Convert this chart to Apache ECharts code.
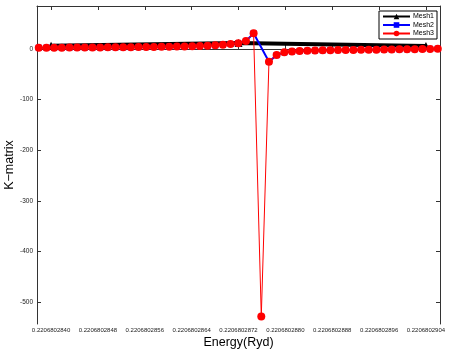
<!DOCTYPE html>
<html>
<head>
<meta charset="utf-8">
<script src="https://cdn.jsdelivr.net/npm/echarts@6/dist/echarts.min.js"></script>
<style>
  html, body { margin: 0; padding: 0; background: #fff; }
  #main { width: 453px; height: 353px; }
</style>
</head>
<body>
<div id="main"></div>
<script>
// energies are stored as (E - 0.2206802) * 1e10
const E0 = 0.2206802;
const xTickLabels = ['0.2206802840', '0.2206802848', '0.2206802856', '0.2206802864', '0.2206802872',
                     '0.2206802880', '0.2206802888', '0.2206802896', '0.2206802904'];
const yTicks = [-500, -400, -300, -200, -100, 0];

const energy = [837.90, 839.21, 840.52, 841.83, 843.14, 844.45, 845.76, 847.07, 848.38, 849.69,
                851.00, 852.31, 853.62, 854.93, 856.24, 857.55, 858.86, 860.17, 861.48, 862.79,
                864.10, 865.41, 866.72, 868.03, 869.34, 870.65, 871.96, 873.27, 874.58, 875.89,
                877.20, 878.51, 879.82, 881.13, 882.44, 883.75, 885.06, 886.37, 887.68, 888.99,
                890.30, 891.61, 892.92, 894.23, 895.54, 896.85, 898.16, 899.47, 900.78, 902.09,
                903.40, 904.71, 906.02];

const mesh1Energy = [840, 872, 904];
const mesh1 = [6.5, 12, 6];

const mesh2 = [2.5, 2.6, 2.6, 2.7, 2.8, 2.9, 3.0, 3.1, 3.2, 3.3,
               3.4, 3.5, 3.6, 3.8, 3.9, 4.1, 4.3, 4.5, 4.8, 5.1,
               5.4, 5.9, 6.5, 7.3, 8.5, 10, 11.5, 16, 31, null,
               -25, -12, -6.5, -5, -4, -3.4, -3, -2.6, -2.3, -2.1,
               -1.9, -1.7, -1.5, -1.3, -1.2, -1.0, -0.8, -0.6, -0.4, -0.2,
               0, 0.3, 0.6];

const mesh3 = [2.5, 2.6, 2.6, 2.7, 2.8, 2.9, 3.0, 3.1, 3.2, 3.3,
               3.4, 3.5, 3.6, 3.8, 3.9, 4.1, 4.3, 4.5, 4.8, 5.1,
               5.4, 5.9, 6.5, 7.3, 8.5, 10, 11.5, 16, 31, -528,
               -25, -12, -6.5, -5, -4, -3.4, -3, -2.6, -2.3, -2.1,
               -1.9, -1.7, -1.5, -1.3, -1.2, -1.0, -0.8, -0.6, -0.4, -0.2,
               0, 0.3, 0.6];

const xTicks = xTickLabels.map(s => Math.round((parseFloat(s) - E0) * 1e12) / 100);

let myChart = echarts.init(document.getElementById('main'));

const xRange = { min: 837.6, max: 906.4 };
const yRange = { min: -543, max: 85 };
const axisColor = '#333';
const fontFamily = 'Liberation Sans, Arial, sans-serif';

let option = {
    animation: false,
    grid: { left: 37, right: 13, top: 6, bottom: 29, containLabel: false, outerBoundsMode: 'none' },
    legend: {
        orient: 'vertical',
        left: 379,
        top: 11,
        padding: [2, 3, 2, 3],
        itemGap: 1.5,
        itemWidth: 27,
        itemHeight: 7,
        backgroundColor: '#fff',
        borderColor: '#000',
        borderWidth: 1,
        borderRadius: 0,
        textStyle: { fontSize: 7, color: '#000', fontFamily: fontFamily, padding: [0, 0, 0, -2] },
        data: ['Mesh1', 'Mesh2', 'Mesh3']
    },
    xAxis: [
        {
            type: 'value',
            min: xRange.min,
            max: xRange.max,
            name: 'Energy(Ryd)',
            nameLocation: 'middle',
            nameGap: 12,
            nameMoveOverlap: false,
            nameTextStyle: { fontSize: 12.5, color: '#000', fontFamily: fontFamily },
            axisLine: { lineStyle: { color: axisColor, width: 1 } },
            axisTick: { inside: true, length: 4, lineStyle: { color: axisColor }, customValues: xTicks },
            axisLabel: {
                fontSize: 6, color: '#222', fontFamily: fontFamily, margin: 3,
                customValues: xTicks,
                formatter: v => xTickLabels[xTicks.findIndex(t => Math.abs(t - v) < 1e-6)]
            },
            splitLine: { show: false }
        },
        {
            type: 'value',
            position: 'top',
            min: xRange.min,
            max: xRange.max,
            axisLine: { show: true, onZero: false, lineStyle: { color: axisColor, width: 1 } },
            axisTick: { inside: true, length: 4, lineStyle: { color: axisColor }, customValues: xTicks },
            axisLabel: { show: false },
            splitLine: { show: false }
        }
    ],
    yAxis: [
        {
            type: 'value',
            min: yRange.min,
            max: yRange.max,
            name: 'K\u2212matrix',
            nameLocation: 'middle',
            nameGap: 21,
            nameMoveOverlap: false,
            nameTextStyle: { fontSize: 12.5, color: '#000', fontFamily: fontFamily },
            axisLine: { show: true, onZero: false, lineStyle: { color: axisColor, width: 1 } },
            axisTick: { show: true, inside: true, length: 4, lineStyle: { color: axisColor }, customValues: yTicks },
            axisLabel: { fontSize: 6.5, color: '#222', fontFamily: fontFamily, margin: 4, customValues: yTicks },
            splitLine: { show: false }
        },
        {
            type: 'value',
            position: 'right',
            min: yRange.min,
            max: yRange.max,
            axisLine: { show: true, onZero: false, lineStyle: { color: axisColor, width: 1 } },
            axisTick: { show: true, inside: true, length: 4, lineStyle: { color: axisColor }, customValues: yTicks },
            axisLabel: { show: false },
            splitLine: { show: false }
        }
    ],
    series: [
        {
            name: 'Mesh1',
            type: 'line',
            z: 2,
            data: mesh1Energy.map((e, i) => [e, mesh1[i]]),
            color: '#000',
            lineStyle: { width: 4, color: '#000' },
            symbol: 'triangle',
            symbolSize: 8,
            itemStyle: { color: '#000' }
        },
        {
            name: 'Mesh2',
            type: 'line',
            z: 3,
            connectNulls: true,
            data: energy.map((e, i) => [e, mesh2[i]]),
            color: '#0000ff',
            lineStyle: { width: 2, color: '#0000ff' },
            symbol: 'rect',
            symbolSize: 6,
            itemStyle: { color: '#0000ff' }
        },
        {
            name: 'Mesh3',
            type: 'line',
            z: 4,
            data: energy.map((e, i) => [e, mesh3[i]]),
            color: '#ff0000',
            lineStyle: { width: 1, color: '#ff0000' },
            symbol: 'circle',
            symbolSize: 8,
            itemStyle: { color: '#ff0000' }
        }
    ]
};
myChart.setOption(option);
</script>
</body>
</html>
